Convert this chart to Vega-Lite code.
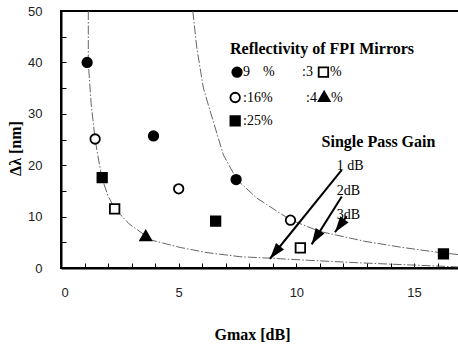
{
  "$schema": "https://vega.github.io/schema/vega-lite/v6.json",
  "width": 398,
  "height": 257,
  "autosize": {"type": "none"},
  "padding": {"left": 61, "top": 11, "right": 0, "bottom": 80},
  "background": "white",
  "config": {
    "view": {"stroke": "black", "strokeWidth": 2},
    "axis": {
      "domainColor": "black", "domainWidth": 2,
      "grid": false, "labelFont": "Liberation Sans", "labelFontSize": 13,
      "labelColor": "#222", "titleFont": "Liberation Serif", "titleFontSize": 16,
      "titleFontWeight": "bold", "titleColor": "black"
    }
  },
  "datasets": {
    "curves": [
      {"c": "A", "x": 1.16, "y": 50}, {"c": "A", "x": 1.16, "y": 40}, {"c": "A", "x": 1.28, "y": 32},
      {"c": "A", "x": 1.45, "y": 25}, {"c": "A", "x": 1.6, "y": 21}, {"c": "A", "x": 1.73, "y": 17.6},
      {"c": "A", "x": 2.0, "y": 14}, {"c": "A", "x": 2.29, "y": 11.5}, {"c": "A", "x": 2.89, "y": 8.6},
      {"c": "A", "x": 3.62, "y": 6.2}, {"c": "A", "x": 3.78, "y": 5.5}, {"c": "A", "x": 5.06, "y": 4.0},
      {"c": "A", "x": 6.2, "y": 3.0}, {"c": "A", "x": 7.6, "y": 2.2}, {"c": "A", "x": 8.9, "y": 1.9},
      {"c": "A", "x": 10.5, "y": 1.5}, {"c": "A", "x": 12.7, "y": 1.0}, {"c": "A", "x": 14.8, "y": 0.6},
      {"c": "A", "x": 16.9, "y": 0.2},
      {"c": "B", "x": 5.6, "y": 50}, {"c": "B", "x": 5.77, "y": 42.8}, {"c": "B", "x": 6.05, "y": 35},
      {"c": "B", "x": 6.47, "y": 28.5}, {"c": "B", "x": 6.9, "y": 22}, {"c": "B", "x": 7.47, "y": 17.2},
      {"c": "B", "x": 8.32, "y": 13.6}, {"c": "B", "x": 9.73, "y": 9.4}, {"c": "B", "x": 11.0, "y": 7.1},
      {"c": "B", "x": 12.9, "y": 5.2}, {"c": "B", "x": 14.5, "y": 4.0}, {"c": "B", "x": 16.1, "y": 3.0},
      {"c": "B", "x": 16.9, "y": 2.6}
    ],
    "points": [
      {"g": "9%", "x": 1.11, "y": 40}, {"g": "9%", "x": 3.93, "y": 25.7}, {"g": "9%", "x": 7.44, "y": 17.2},
      {"g": "16%", "x": 1.45, "y": 25.1}, {"g": "16%", "x": 5.0, "y": 15.4}, {"g": "16%", "x": 9.75, "y": 9.3},
      {"g": "25%", "x": 1.75, "y": 17.6}, {"g": "25%", "x": 6.57, "y": 9.1}, {"g": "25%", "x": 16.25, "y": 2.75},
      {"g": "36%", "x": 2.28, "y": 11.5}, {"g": "36%", "x": 10.17, "y": 3.9},
      {"g": "9%", "x": 7.48, "y": 38.1}, {"g": "16%", "x": 7.4, "y": 33.17}, {"g": "25%", "x": 7.4, "y": 28.64},
      {"g": "36%", "x": 11.15, "y": 38.1}
    ],
    "tri": [
      {"g": "49%", "x": 3.6, "y": 6.4},
      {"g": "49%", "x": 11.18, "y": 33.5}
    ],
    "arrows": [
      {"lab": "1 dB", "x": 11.93, "y": 19.1, "x2": 8.88, "y2": 1.8, "deg": 218.8},
      {"lab": "2dB", "x": 11.93, "y": 13.9, "x2": 10.65, "y2": 4.6, "deg": 211.8},
      {"lab": "3dB", "x": 12.14, "y": 10.1, "x2": 11.64, "y2": 6.95, "deg": 216.2}
    ],
    "heads": [
      {"t": "Reflectivity of FPI Mirrors", "x": 11.09, "y": 42.68},
      {"t": "Single Pass Gain", "x": 13.49, "y": 24.43}
    ],
    "labels": [
      {"t": "9", "x": 7.735, "y": 38.1}, {"t": "%", "x": 8.585, "y": 38.1},
      {"t": ":3", "x": 10.24, "y": 38.1}, {"t": "%", "x": 11.43, "y": 38.1},
      {"t": ":16%", "x": 7.735, "y": 33.17}, {"t": ":4", "x": 10.41, "y": 33.17}, {"t": "%", "x": 11.47, "y": 33.17},
      {"t": ":25%", "x": 7.735, "y": 28.64},
      {"t": "1 dB", "x": 11.72, "y": 19.77}, {"t": "2dB", "x": 11.72, "y": 14.91}, {"t": "3dB", "x": 11.72, "y": 10.39}
    ]
  },
  "encoding": {
    "x": {
      "field": "x", "type": "quantitative",
      "scale": {"domain": [0, 16.91], "nice": false},
      "axis": {
        "values": [0,1,2,3,4,5,6,7,8,9,10,11,12,13,14,15,16],
        "labelExpr": "datum.value % 5 == 0 ? datum.label : ''",
        "ticks": true, "tickSize": -5, "tickColor": "black", "tickWidth": 1, "tickOpacity": 1, "tickDash": [],
        "labelPadding": 23, "title": "Gmax [dB]",
        "titleX": 191, "titleY": 66, "titleBaseline": "middle", "titleAlign": "center"
      }
    },
    "y": {
      "field": "y", "type": "quantitative",
      "scale": {"domain": [0, 50], "nice": false},
      "axis": {
        "values": [0,5,10,15,20,25,30,35,40,45,50],
        "labelExpr": "datum.value % 10 == 0 ? datum.label : ''",
        "ticks": true, "tickSize": -5, "tickColor": "black", "tickWidth": 1, "tickOpacity": 1, "tickDash": [],
        "labelPadding": 24, "title": "Δλ [nm]",
        "titleX": -46, "titleY": 137, "titleAngle": -90, "titleBaseline": "middle", "titleAlign": "center"
      }
    }
  },
  "layer": [
    {
      "data": {"name": "curves"},
      "mark": {"type": "line", "color": "#555", "strokeWidth": 0.9, "strokeDash": [9, 2, 1.5, 2], "clip": true},
      "encoding": {"detail": {"field": "c"}}
    },
    {
      "data": {"name": "arrows"},
      "mark": {"type": "rule", "color": "black", "strokeWidth": 2},
      "encoding": {"x2": {"field": "x2"}, "y2": {"field": "y2"}}
    },
    {
      "data": {"name": "arrows"},
      "mark": {"type": "point", "shape": "M0,0L0.9,2.8L-0.9,2.8Z", "filled": true, "color": "black", "size": 130, "opacity": 1},
      "encoding": {
        "x": {"field": "x2", "type": "quantitative"},
        "y": {"field": "y2", "type": "quantitative"},
        "angle": {"field": "deg", "type": "quantitative", "scale": null}
      }
    },
    {
      "data": {"name": "points"},
      "mark": {"type": "point", "stroke": "black", "strokeWidth": 1.8, "opacity": 1, "size": 90},
      "encoding": {
        "shape": {"field": "g", "type": "nominal", "legend": null,
          "scale": {"domain": ["9%", "16%", "25%", "36%"], "range": ["circle", "circle", "square", "square"]}},
        "fill": {"field": "g", "type": "nominal", "legend": null,
          "scale": {"domain": ["9%", "16%", "25%", "36%"], "range": ["black", "white", "black", "white"]}}
      }
    },
    {
      "data": {"name": "tri"},
      "mark": {"type": "point", "shape": "triangle-up", "filled": true, "color": "black", "opacity": 1, "size": 200}
    },
    {
      "data": {"name": "heads"},
      "mark": {"type": "text", "font": "Liberation Serif", "fontWeight": "bold", "fontSize": 16, "color": "black", "align": "center", "baseline": "middle"},
      "encoding": {"text": {"field": "t"}}
    },
    {
      "data": {"name": "labels"},
      "mark": {"type": "text", "font": "Liberation Serif", "fontSize": 14, "color": "black", "align": "left", "baseline": "middle"},
      "encoding": {"text": {"field": "t"}}
    }
  ]
}
